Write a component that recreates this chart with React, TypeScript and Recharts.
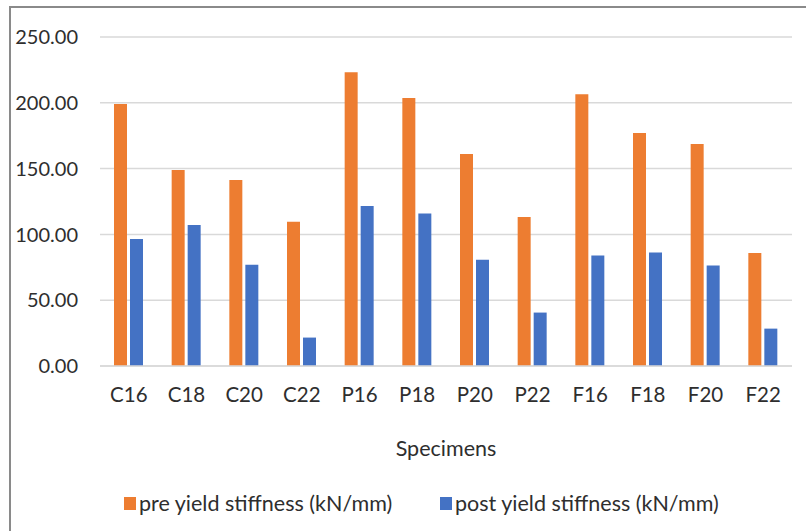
import {
  BarChart,
  Bar,
  CartesianGrid,
  XAxis,
  YAxis,
  Legend,
} from "recharts";

const specimens = ["C16", "C18", "C20", "C22", "P16", "P18", "P20", "P22", "F16", "F18", "F20", "F22"];
const preYield = [199.1, 148.9, 141.3, 109.7, 223.2, 203.6, 161.1, 113.2, 206.5, 177.1, 168.7, 85.9];
const postYield = [96.5, 107.1, 77.0, 21.6, 121.6, 115.8, 80.8, 40.6, 83.9, 86.2, 76.3, 28.4];
const yTicks = [0, 50, 100, 150, 200, 250];

const ORANGE = "#ED7D31";
const BLUE = "#4472C4";
const TEXT = "#2e2e2e";
const FONT = "Lato, 'Open Sans', sans-serif";

const data = specimens.map((name, i) => ({
  name,
  pre: preYield[i],
  post: postYield[i],
}));

const legendItems = [
  { label: "pre yield stiffness (kN/mm)", color: ORANGE, left: 124 },
  { label: "post yield stiffness (kN/mm)", color: BLUE, left: 440 },
];

function StiffnessLegend() {
  return (
    <div style={{ position: "relative", height: 28, width: 806 }}>
      {legendItems.map((item) => (
        <div
          key={item.label}
          style={{
            position: "absolute",
            left: item.left,
            top: 0,
            height: 28,
            display: "flex",
            alignItems: "center",
            fontFamily: FONT,
            fontSize: 21.5,
            color: TEXT,
            whiteSpace: "nowrap",
          }}
        >
          <span
            style={{
              display: "inline-block",
              width: 12,
              height: 13,
              background: item.color,
              marginRight: 3,
            }}
          />
          {item.label}
        </div>
      ))}
    </div>
  );
}

export default function App() {
  return (
    <div
      style={{
        position: "fixed",
        left: 0,
        top: 0,
        width: 806,
        height: 531,
        background: "#fff",
        overflow: "hidden",
      }}
    >
      {/* chart frame, runs off the right and bottom edges */}
      <div
        style={{
          position: "absolute",
          left: 9,
          top: 6,
          width: 820,
          height: 560,
          border: "2px solid #8a8a8a",
          boxSizing: "border-box",
        }}
      />
      <div style={{ position: "absolute", left: 0, top: 0 }}>
        <BarChart
          width={806}
          height={531}
          data={data}
          margin={{ top: 37, right: 14, left: 0, bottom: 14 }}
          barSize={13}
          barGap={3}
        >
          <CartesianGrid vertical={false} stroke="#d9d9d9" strokeWidth={1.5} />
          <XAxis
            dataKey="name"
            height={123}
            tickLine={false}
            tickSize={0}
            tickMargin={21}
            axisLine={{ stroke: "#d9d9d9", strokeWidth: 1.5 }}
            tick={{ fill: TEXT, fontSize: 20.5, fontFamily: FONT }}
            label={{
              value: "Specimens",
              position: "insideBottom",
              offset: 33,
              fill: TEXT,
              fontSize: 21.5,
              fontFamily: FONT,
            }}
          />
          <YAxis
            width={100}
            domain={[0, 250]}
            ticks={yTicks}
            tickFormatter={(v: number) => v.toFixed(2)}
            axisLine={false}
            tickLine={false}
            tickSize={0}
            tickMargin={22}
            tick={{ fill: TEXT, fontSize: 20, fontFamily: FONT }}
          />
          <Legend verticalAlign="bottom" content={() => <StiffnessLegend />} />
          <Bar dataKey="pre" name="pre yield stiffness (kN/mm)" fill={ORANGE} isAnimationActive={false} />
          <Bar dataKey="post" name="post yield stiffness (kN/mm)" fill={BLUE} isAnimationActive={false} />
        </BarChart>
      </div>
    </div>
  );
}
